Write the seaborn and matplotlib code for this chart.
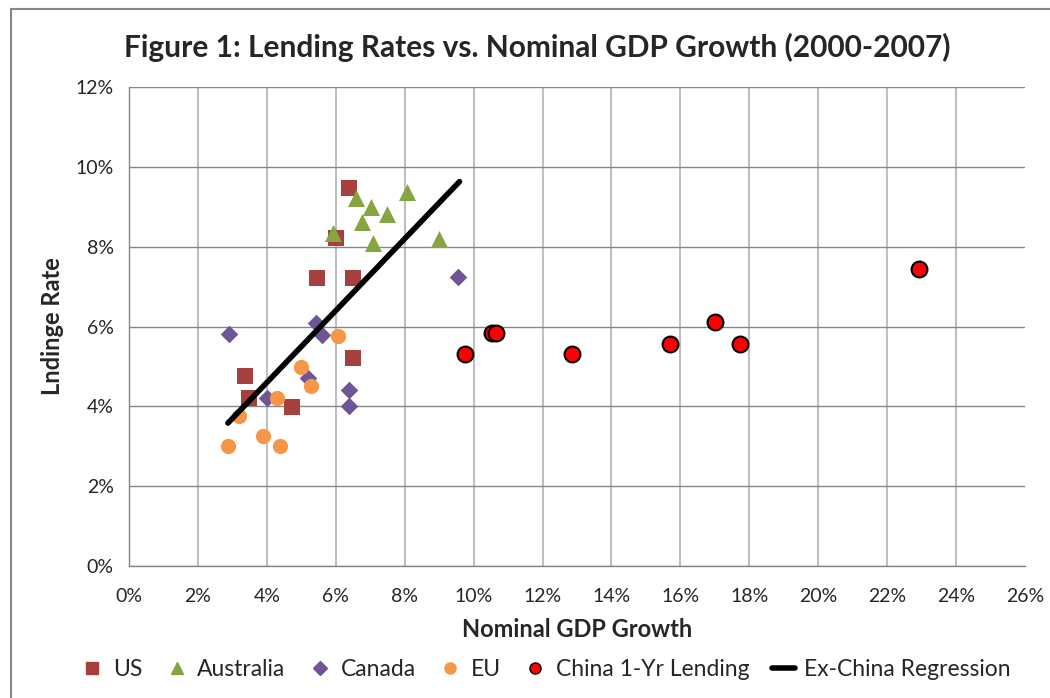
import numpy as np
import pandas as pd
import matplotlib
matplotlib.use("Agg")
import matplotlib.pyplot as plt
import matplotlib.patches as mpatches
from matplotlib.ticker import FuncFormatter
import seaborn as sns

# Data (percent)
us_x = [6.38, 6.00, 5.45, 6.49, 6.49, 3.36, 3.48, 4.72]
us_y = [9.48, 8.22, 7.22, 7.22, 5.22, 4.75, 4.22, 3.98]

aus_x = [6.58, 8.06, 7.01, 7.50, 6.75, 5.91, 7.07, 9.01]
aus_y = [9.23, 9.38, 9.00, 8.83, 8.63, 8.35, 8.10, 8.18]

can_x = [9.54, 2.90, 5.42, 5.59, 5.19, 4.00, 6.38, 6.38]
can_y = [7.25, 5.80, 6.10, 5.78, 4.70, 4.20, 4.40, 4.00]

eu_x = [6.06, 4.99, 5.28, 4.29, 3.19, 3.88, 2.87, 4.38]
eu_y = [5.75, 4.98, 4.50, 4.22, 3.75, 3.25, 3.00, 3.00]

china_x = [9.74, 10.54, 10.66, 12.86, 15.70, 16.99, 17.73, 22.93]
china_y = [5.30, 5.84, 5.84, 5.30, 5.55, 6.12, 5.55, 7.45]

reg_x = [2.87, 9.59]
reg_y = [3.58, 9.63]

x_ticks = list(range(0, 27, 2))
y_ticks = list(range(0, 13, 2))

sns.set_style("white")
plt.rcParams['font.family'] = ['Lato', 'DejaVu Sans']

fig = plt.figure(figsize=(10.5, 6.98), dpi=100)
ax = fig.add_axes([129 / 1050, 132 / 698, 896 / 1050, 479 / 698])

# outer chart border
fig.patches.append(mpatches.Rectangle((11 / 1050, -0.05), 1.2, (698 - 9) / 698 + 0.05,
                                      transform=fig.transFigure, fill=False,
                                      edgecolor="#868686", linewidth=1.5))

series = [
    ("US", us_x, us_y, "s", "#A5403E", 120),
    ("Australia", aus_x, aus_y, "^", "#86A43F", 150),
    ("Canada", can_x, can_y, "D", "#6F5597", 80),
    ("EU", eu_x, eu_y, "o", "#F79646", 120),
]
handles = []
for name, xs, ys, mk, col, sz in series:
    df = pd.DataFrame({"x": xs, "y": ys})
    sns.scatterplot(data=df, x="x", y="y", marker=mk, color=col, s=sz,
                    linewidth=0, ax=ax, zorder=3)
    handles.append(plt.Line2D([], [], marker=mk, color=col, linestyle="none",
                              markersize=8 if mk != "D" else 7, label=name))

china = pd.DataFrame({"x": china_x, "y": china_y})
sns.scatterplot(data=china, x="x", y="y", marker="o", color="#FF0000", s=130,
                edgecolor="black", linewidth=1.5, ax=ax, zorder=4)
handles.append(plt.Line2D([], [], marker="o", color="#FF0000", markeredgecolor="black",
                          linestyle="none", markersize=8, label="China 1-Yr Lending"))

reg = pd.DataFrame({"x": reg_x, "y": reg_y})
sns.lineplot(data=reg, x="x", y="y", color="black", linewidth=4, ax=ax, zorder=5)
handles.append(plt.Line2D([], [], color="black", linewidth=4, label="Ex-China Regression"))

ax.set_xlim(0, 26)
ax.set_ylim(0, 12)
ax.set_xticks(x_ticks)
ax.set_yticks(y_ticks)
pct = FuncFormatter(lambda v, p: f"{v:.0f}%")
ax.xaxis.set_major_formatter(pct)
ax.yaxis.set_major_formatter(pct)
ax.tick_params(axis="both", direction="out", length=7, width=1, color="#868686",
               labelsize=14)
ax.tick_params(axis="x", pad=9)
ax.tick_params(axis="y", pad=4)

ax.yaxis.grid(True, color="#868686", linewidth=1)
ax.xaxis.grid(True, color="#BFBFBF", linewidth=1.5)
ax.xaxis.get_gridlines()[-1].set_visible(False)
ax.set_axisbelow(True)
for side in ["top", "right"]:
    ax.spines[side].set_visible(False)
for side in ["left", "bottom"]:
    ax.spines[side].set_color("#868686")
    ax.spines[side].set_linewidth(1)

ax.set_xlabel("Nominal GDP Growth", fontsize=17, fontweight="bold", labelpad=9)
ax.set_ylabel("Lndinge Rate", fontsize=17, fontweight="bold", labelpad=8)

fig.text(0.512, 1 - 47 / 698, "Figure 1: Lending Rates vs. Nominal GDP Growth (2000-2007)",
         ha="center", va="center", fontsize=21.5, fontweight="bold")

fig.legend(handles=handles, loc="center", bbox_to_anchor=(0.52, 1 - 670 / 698), ncol=6,
           frameon=False, fontsize=16.5, handletextpad=0.4, columnspacing=1.0,
           handlelength=1.0)
if ax.get_legend() is not None:
    ax.get_legend().remove()

fig.savefig("out.png", dpi=100)
